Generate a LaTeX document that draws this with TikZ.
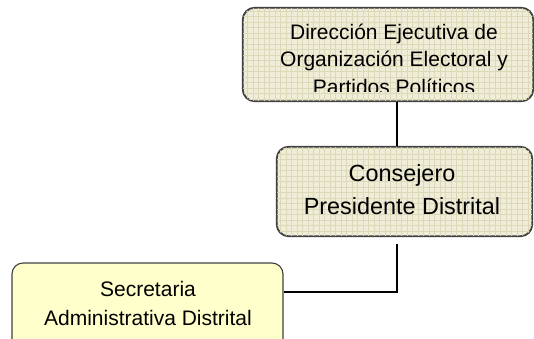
\documentclass[tikz,border=0pt]{standalone}
\usepackage{fontspec}
\setmainfont{Liberation Sans}
\definecolor{beige}{HTML}{EFEDD8}
\definecolor{gridc}{HTML}{DCD9B8}
\definecolor{pale}{HTML}{FFFFCC}
\definecolor{edge}{HTML}{404040}
\tikzset{
  box/.style={draw=edge, line width=1.1pt, rounded corners=12pt, inner sep=0pt},
  rim/.style={draw=edge, line width=1.1pt, rounded corners=12pt},
  gridlines/.style={draw=gridc, line width=0.5pt},
  txtA/.style={anchor=base, inner sep=0pt, font=\fontsize{21}{25}\selectfont},
  txtB/.style={anchor=base, inner sep=0pt, font=\fontsize{23.4}{28}\selectfont},
  conn/.style={draw=black, line width=1.6pt},
}
\begin{document}
\begin{tikzpicture}[x=1pt,y=-1pt]
\clip (0,0) rectangle (534,338);
% top box
\node[box, fill=beige, minimum width=290pt, minimum height=93pt] (tb) at (388,54.5) {};
\begin{scope}
  \clip[rounded corners=12pt] (tb.north west) rectangle (tb.south east);
  \draw[gridlines, step=5.5pt] (tb.south west) grid (tb.north east);
\end{scope}
\draw[rim] (tb.north west) rectangle (tb.south east);
\begin{scope}
  \clip (243,8) rectangle (533,91.5);
  \node[txtA] (t1) at (394,39.5) {Dirección Ejecutiva de};
  \node[txtA] (t2) at (394,66.5) {Organización Electoral y};
  \node[txtA] (t3) at (394,94.5) {Partidos Políticos};
\end{scope}
% middle box
\node[box, fill=beige, minimum width=255pt, minimum height=89pt] (mb) at (404.5,191.5) {};
\begin{scope}
  \clip[rounded corners=12pt] (mb.north west) rectangle (mb.south east);
  \draw[gridlines, step=5.5pt] (mb.south west) grid (mb.north east);
\end{scope}
\draw[rim] (mb.north west) rectangle (mb.south east);
\node[txtB] (m1) at (402,181.7) {Consejero};
\node[txtB] (m2) at (402,214) {Presidente Distrital};
% bottom box
\node[box, fill=pale, rounded corners=11pt, minimum width=271pt, minimum height=100pt] (bb) at (147.5,313) {};
\node[txtA] (b1) at (148,296.7) {Secretaria};
\node[txtA] (b2) at (148,325) {Administrativa Distrital};
% connectors
\coordinate (c1) at (397,0);
\coordinate (j) at (397,292);
\draw[conn] (c1 |- tb.south) -- (c1 |- mb.north);
\draw[conn] ([yshift=-7pt] c1 |- mb.south) -- (j) -- (j -| bb.east);
\end{tikzpicture}
\end{document}
